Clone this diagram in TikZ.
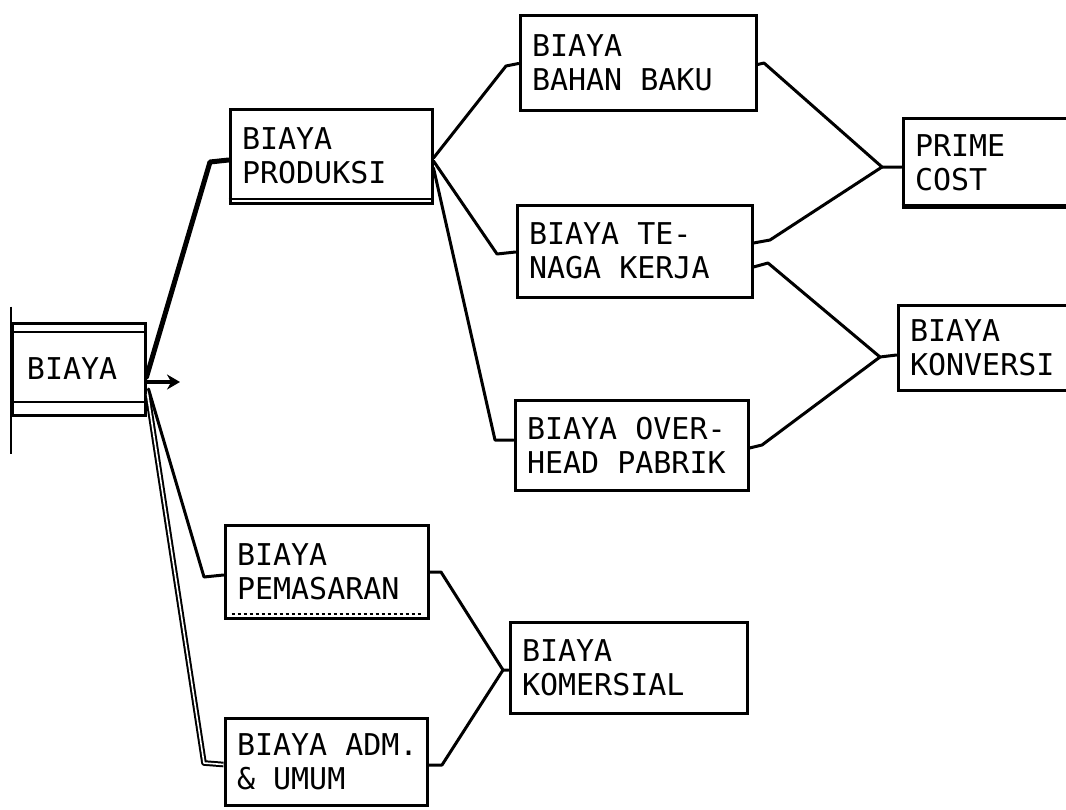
\documentclass[tikz,border=0pt]{standalone}
\usepackage{fontspec}
\setmonofont{DejaVu Sans Mono}
\usetikzlibrary{calc,arrows.meta}
\newcommand\sgap{\hspace*{0.602em}}
\begin{document}
\begin{tikzpicture}[x=1pt,y=-1pt,
 box/.style={draw,line width=3pt,inner xsep=12pt,inner ysep=0pt,align=left,
   font=\ttfamily\fontsize{30}{34}\selectfont,anchor=center},
 conn/.style={line width=3pt,line join=round,line cap=round},
 thin/.style={line width=2pt}]
\clip (0,0) rectangle (1066,809);
\fill[white] (0,0) rectangle (1066,809);
% boxes
\node[box,inner xsep=15pt,text width=103pt,minimum height=92pt] (biaya) at (78.5,369) {BIAYA};
\node[box,text width=178pt,minimum height=94pt] (produksi) at (331,156) {BIAYA\\PRODUKSI};
\node[box,text width=212pt,minimum height=95pt] (bahan) at (638,62.5) {BIAYA\\BAHAN\sgap BAKU};
\node[box,text width=211pt,minimum height=92pt] (tenaga) at (634.5,251) {BIAYA\sgap TE-\\NAGA\sgap KERJA};
\node[box,text width=209pt,minimum height=90pt] (overhead) at (631.5,445) {BIAYA\sgap OVER-\\HEAD\sgap PABRIK};
\node[box,text width=163pt,minimum height=89pt] (prime) at (996.5,162.5) {PRIME\\COST};
\node[box,text width=168pt,minimum height=85pt] (konversi) at (994,347.5) {BIAYA\\KONVERSI};
\node[box,text width=179pt,minimum height=93pt] (pemasaran) at (326.5,571.5) {BIAYA\\PEMASARAN};
\node[box,text width=213pt,minimum height=91pt] (komersial) at (628.5,667.5) {BIAYA\\KOMERSIAL};
\node[box,text width=178pt,minimum height=87pt] (adm) at (326,761.5) {BIAYA\sgap ADM.\\\&\sgap UMUM};
% extra rule lines inside boxes
\draw[thin] ($(biaya.north west)+(0,10)$) -- ($(biaya.north east)+(0,10)$);
\draw[thin] ($(biaya.south west)+(0,-15)$) -- ($(biaya.south east)+(0,-15)$);
\draw[thin] ($(biaya.north west)+(0,-15)$) -- ($(biaya.south west)+(0,37)$);
\draw[thin] ($(produksi.south west)+(0,-6)$) -- ($(produksi.south east)+(0,-6)$);
\draw[thin] ($(prime.south west)+(0,-4)$) -- ($(prime.south east)+(0,-4)$);
\draw[thin,dashed] ($(pemasaran.south west)+(8,-6)$) -- ($(pemasaran.south east)+(-8,-6)$);
% connectors from BIAYA
\coordinate (b1) at (210,162);
\coordinate (b2) at (204,577);
\coordinate (b3) at (204,763);
\coordinate (arrowend) at (180,382);
\draw[conn,line width=5pt] ($(biaya.east)+(0,8)$) -- (b1) -- ($(produksi.west)+(0,4)$);
\draw[conn] ($(biaya.east)+(2,20)$) -- (b2) -- ($(pemasaran.west)+(0,3.5)$);
\draw[line width=2pt,double,double distance=1.6pt,line join=round] ($(biaya.east)+(1,25)$) -- (b3) -- ($(adm.west)+(0,3)$);
\draw[conn,line width=4pt,-{Stealth[length=13pt,width=15pt]}] ($(biaya.east)+(0,13)$) -- (arrowend);
% connectors from PRODUKSI
\coordinate (p1) at (506,66);
\coordinate (p2) at (497,254);
\coordinate (p3) at (495,440);
\draw[conn] ($(produksi.east)+(0,2)$) -- (p1) -- ($(bahan.west)+(0,1)$);
\draw[conn] ($(produksi.east)+(0,5)$) -- (p2) -- ($(tenaga.west)+(0,1)$);
\draw[conn] ($(produksi.east)+(0,12)$) -- (p3) -- ($(overhead.west)+(0,-5)$);
% prime cost
\coordinate (q) at (882,167);
\coordinate (q1) at (764,63);
\coordinate (q2) at (770,240);
\draw[conn] ($(bahan.east)+(0,2)$) -- (q1) -- (q) -- ($(prime.west)+(0,4.5)$);
\draw[conn] ($(tenaga.east)+(0,-8)$) -- (q2) -- (q);
% konversi
\coordinate (k) at (880,357);
\coordinate (k1) at (768,263);
\coordinate (k2) at (762,445);
\draw[conn] ($(tenaga.east)+(0,16)$) -- (k1) -- (k) -- ($(konversi.west)+(0,7.5)$);
\draw[conn] ($(overhead.east)+(0,3)$) -- (k2) -- (k);
% komersial
\coordinate (m) at (503,670);
\coordinate (m1) at (441,572);
\coordinate (m2) at (442,765);
\draw[conn] ($(pemasaran.east)+(0,0.5)$) -- (m1) -- (m) -- ($(komersial.west)+(0,2.5)$);
\draw[conn] ($(adm.east)+(0,3.5)$) -- (m2) -- (m);
\end{tikzpicture}
\end{document}
